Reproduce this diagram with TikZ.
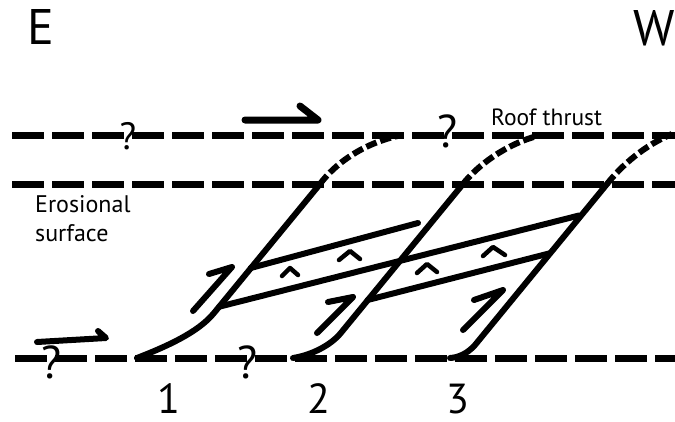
\documentclass[tikz,border=0pt]{standalone}
\usepackage{fontspec}
\setmainfont{PT Sans}
\begin{document}
\begin{tikzpicture}[x=1pt,y=-1pt,
  level/.style={line width=7pt, dash pattern=on 32pt off 8pt},
  fault/.style={line width=6pt, line cap=round, line join=round},
  tipline/.style={line width=6pt, dash pattern=on 11pt off 4pt},
  slip/.style={line width=6pt, line cap=round, line join=round},
  caret/.style={line width=4.5pt, line cap=round, line join=round},
  qmark/.style={inner sep=0pt, anchor=base},
  lbl/.style={inner sep=0pt}]
\useasboundingbox (0,0) rectangle (675,421);
\fill[white] (0,0) rectangle (675,421);

% reference levels: roof thrust, erosional surface, floor thrust
\draw[level] (12,135) -- (675,135);
\draw[level] (12,184) -- (675,184);
\draw[level] (15,358) -- (675,358);

% ramp tops on the erosional surface
\coordinate (r1) at (320,184);
\coordinate (r2) at (463,184);
\coordinate (r3) at (607,184);

% thrust ramps rising from the floor thrust
\draw[fault] (137,358) .. controls (165,347) and (197.7,333) .. (214,313) -- (r1);
\draw[fault] (293,358) .. controls (312,355) and (331,345) .. (340.8,333) -- (r2);
\draw[fault] (450,358) .. controls (458,357.5) and (467,354) .. (475,345) -- (r3);

% eroded continuations up to the roof thrust
\draw[tipline] (r1) .. controls (334,165) and (362,143) .. (402,135);
\draw[tipline] (r2) .. controls (478,165) and (505,145) .. (537,136);
\draw[tipline] (r3) .. controls (622,165) and (645,145) .. (672,134);

% horizons inside the horses
\draw[fault] (250.7,268) -- (418,223);
\draw[fault] (219.2,306.7) -- (579,215.5);
\draw[fault] (367.6,300) -- (549.7,253.3);

% sense of slip on the ramps
\draw[slip] (193,311) -- (232,267) -- (209,274);
\draw[slip] (317,333) -- (353,297) -- (328,302);
\draw[slip] (463,330) -- (503,290) -- (474,300);

% way-up marks
\draw[caret] (282,276) -- (290,268) -- (298,275);
\draw[caret] (339,260) -- (350,251) -- (360,259);
\draw[caret] (417,273) -- (427,264) -- (437,272);
\draw[caret] (483,256) -- (493,247) -- (505,255);

% transport direction on roof and floor
\draw[slip, line width=7pt] (245,120) -- (318,120) -- (300,106);
\draw[slip] (37,342) -- (106,338) -- (98,331);

% uncertain parts
\node[qmark, font=\fontsize{38}{38}\selectfont] (q1) at (128,149) {?};
\node[qmark, font=\fontsize{46}{46}\selectfont] (q2) at (448,147) {?};
\node[qmark, font=\fontsize{46}{46}\selectfont] (q3) at (52,378) {?};
\node[qmark, font=\fontsize{46}{46}\selectfont] (q4) at (248,378) {?};

% labels
\node[lbl, anchor=base west, font=\fontsize{50}{50}\selectfont] (east) at (27,44) {E};
\node[lbl, anchor=base east, font=\fontsize{50}{50}\selectfont] (west) at (675,45) {W};
\node[lbl, anchor=base west, font=\fontsize{23.5}{23.5}\selectfont] (roof) at (491,125) {Roof thrust};
\node[lbl, anchor=base west, font=\fontsize{24}{24}\selectfont] (eros1) at (35,212) {Erosional};
\node[lbl, anchor=base west, font=\fontsize{24}{24}\selectfont] (eros2) at (35,241) {surface};
\node[lbl, anchor=base, font=\fontsize{42}{42}\selectfont] (n1) at (168.5,413) {1};
\node[lbl, anchor=base, font=\fontsize{42}{42}\selectfont] (n2) at (319,413) {2};
\node[lbl, anchor=base, font=\fontsize{42}{42}\selectfont] (n3) at (457.5,413) {3};
\end{tikzpicture}
\end{document}
